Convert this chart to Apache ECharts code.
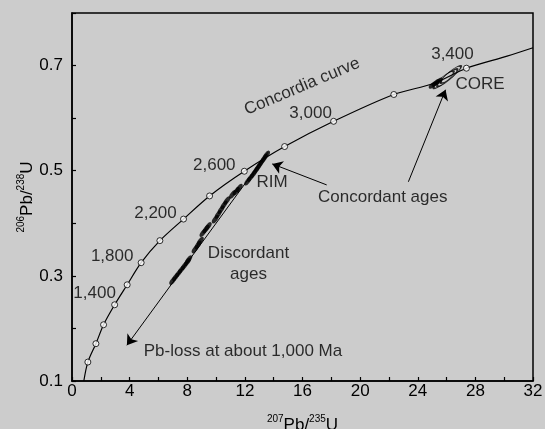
<!DOCTYPE html>
<html>
<head>
<meta charset="utf-8">
<script src="https://cdn.jsdelivr.net/npm/echarts@6/dist/echarts.min.js"></script>
<style>
  html, body { margin: 0; padding: 0; background: #cccccc; }
  #chart { width: 545px; height: 429px; }
</style>
</head>
<body>
<div id="chart"></div>
<script>
// concordia curve (207Pb/235U, 206Pb/238U)
const curveX = [0.82, 1.10, 1.66, 2.19, 2.96, 3.83, 4.80, 6.10, 7.74, 9.55, 11.96, 14.76, 18.16, 22.34, 25.1, 27.38, 30.2, 32];
const curveY = [0.100, 0.136, 0.171, 0.207, 0.245, 0.283, 0.325, 0.367, 0.408, 0.452, 0.499, 0.546, 0.594, 0.645, 0.666, 0.695, 0.718, 0.734];

// open circles on the curve, every 200 Ma
const markX = [1.10, 1.66, 2.19, 2.96, 3.83, 4.80, 6.10, 7.74, 9.55, 11.96, 14.76, 18.16, 22.34, 27.38];
const markY = [0.136, 0.171, 0.207, 0.245, 0.283, 0.325, 0.367, 0.408, 0.452, 0.499, 0.546, 0.594, 0.645, 0.695];
const markAge = ['', '', '', '1,400', '', '1,800', '', '2,200', '', '2,600', '', '3,000', '', '3,400'];

// discordant analyses (filled ellipses)
const discX = [7.0, 7.2, 7.4, 7.6, 7.8, 8.0, 8.1, 8.55, 8.75, 8.9, 9.1, 9.3, 9.45, 9.95, 10.15, 10.35, 10.55, 10.75, 11.15, 11.4, 11.6,
               12.2, 12.4, 12.6, 12.75, 12.9, 13.05, 13.2, 13.35, 13.5];
const discY = [0.291, 0.298, 0.305, 0.312, 0.319, 0.326, 0.331, 0.351, 0.359, 0.366, 0.382, 0.389, 0.394, 0.408, 0.417, 0.426, 0.435, 0.443, 0.455, 0.461, 0.467,
               0.480, 0.487, 0.494, 0.500, 0.506, 0.512, 0.518, 0.524, 0.530];

// core analyses
const coreOpenX = [26.05, 26.3, 25.8];
const coreOpenY = [0.677, 0.683, 0.673];
const coreFillX = [25.05, 25.25, 25.45];
const coreFillY = [0.663, 0.667, 0.670];

// arrows [from, to]
const arrowDiscordia = [[13.6, 0.535], [3.81, 0.168]];
const arrowRim = [[17.68, 0.473], [13.90, 0.513]];
const arrowCore = [[23.35, 0.479], [25.93, 0.654]];

const FONT = 'Liberation Sans';
const INK = '#000';
const chart = echarts.init(document.getElementById('chart'));

const nameRich = {
  base: { fontSize: 17, fontFamily: FONT, color: INK, lineHeight: 22 },
  sup: { fontSize: 10, fontFamily: FONT, color: INK, verticalAlign: 'top', lineHeight: 4 }
};

function note(x, y, text, extra) {
  return { value: [x, y], label: Object.assign({ formatter: text }, extra || {}) };
}

chart.setOption({
  animation: false,
  backgroundColor: '#cccccc',
  grid: {
    left: 72, right: 12, top: 13, bottom: 48, show: true, borderColor: INK, borderWidth: 1.5,
    outerBoundsMode: 'none', containLabel: false
  },
  xAxis: {
    type: 'value', min: 0, max: 32, interval: 2,
    name: '{sup|207}{base|Pb/}{sup|235}{base|U}',
    nameLocation: 'middle', nameGap: 33, nameMoveOverlap: false,
    nameTextStyle: { rich: nameRich },
    axisLine: { lineStyle: { color: INK, width: 1.5 } },
    axisTick: { inside: true, length: 4, lineStyle: { color: INK, width: 1.2 } },
    axisLabel: {
      margin: 2, fontSize: 17, fontFamily: FONT, color: INK,
      formatter: v => (v % 4 === 0 ? String(v) : '')
    },
    splitLine: { show: false }
  },
  yAxis: {
    type: 'value', min: 0.1, max: 0.8, interval: 0.1,
    name: '{sup|206}{base|Pb/}{sup|238}{base|U}',
    nameLocation: 'middle', nameGap: 34, nameMoveOverlap: false,
    nameTextStyle: { rich: nameRich },
    axisLine: { lineStyle: { color: INK, width: 1.5 } },
    axisTick: { inside: true, length: 4, lineStyle: { color: INK, width: 1.2 } },
    axisLabel: {
      margin: 9, fontSize: 17, fontFamily: FONT, color: INK,
      formatter: v => { const k = Math.round(v * 10); return (k % 2 === 1 && k < 8) ? (k / 10).toFixed(1) : ''; }
    },
    splitLine: { show: false }
  },
  series: [
    {
      type: 'line', smooth: 0.3, symbol: 'none',
      data: curveX.map((x, i) => [x, curveY[i]]),
      lineStyle: { color: INK, width: 1.2 }
    },
    {
      type: 'scatter', symbol: 'circle', symbolSize: 6,
      itemStyle: { color: '#fff', borderColor: INK, borderWidth: 1 },
      data: markX.map((x, i) => {
        const offs = { '1,400': [-20, -11], '1,800': [-29, -6], '2,200': [-28, -6], '2,600': [-30, -6], '3,000': [-23, -8], '3,400': [-14, -14] };
        const d = { value: [x, markY[i]] };
        if (markAge[i]) {
          d.label = { show: true, formatter: markAge[i], position: 'inside', offset: offs[markAge[i]],
            fontSize: 17, fontFamily: FONT, color: INK };
        }
        return d;
      }),
      z: 5
    },
    {
      type: 'scatter', symbol: 'circle', symbolSize: [10, 4.5], symbolRotate: 54,
      itemStyle: { color: INK },
      data: discX.map((x, i) => [x, discY[i]])
    },
    {
      type: 'scatter', symbol: 'circle', symbolSize: [10, 4.5], symbolRotate: 40,
      itemStyle: { color: INK },
      data: coreFillX.map((x, i) => [x, coreFillY[i]])
    },
    {
      type: 'scatter', symbol: 'circle', symbolSize: [26, 6], symbolRotate: 40,
      itemStyle: { color: 'rgba(0,0,0,0)', borderColor: INK, borderWidth: 1.3 },
      data: coreOpenX.map((x, i) => [x, coreOpenY[i]])
    },
    {
      type: 'lines', coordinateSystem: 'cartesian2d',
      symbol: ['none', 'arrow'], symbolSize: [6, 10],
      lineStyle: { color: INK, width: 1, opacity: 1 },
      data: [arrowDiscordia, arrowRim, arrowCore].map(c => ({ coords: c }))
    },
    {
      type: 'scatter', symbolSize: 0, silent: true,
      label: { show: true, position: 'inside', fontSize: 17, fontFamily: FONT, color: INK },
      data: [
        note(15.97, 0.660, 'Concordia curve', { rotate: 23 }),
        note(28.32, 0.665, 'CORE'),
        note(13.88, 0.477, 'RIM'),
        note(21.57, 0.450, 'Concordant ages'),
        note(12.25, 0.323, 'Discordant\nages', { lineHeight: 21, align: 'center' }),
        note(11.87, 0.157, 'Pb-loss at about 1,000 Ma')
      ]
    }
  ]
});
</script>
</body>
</html>
